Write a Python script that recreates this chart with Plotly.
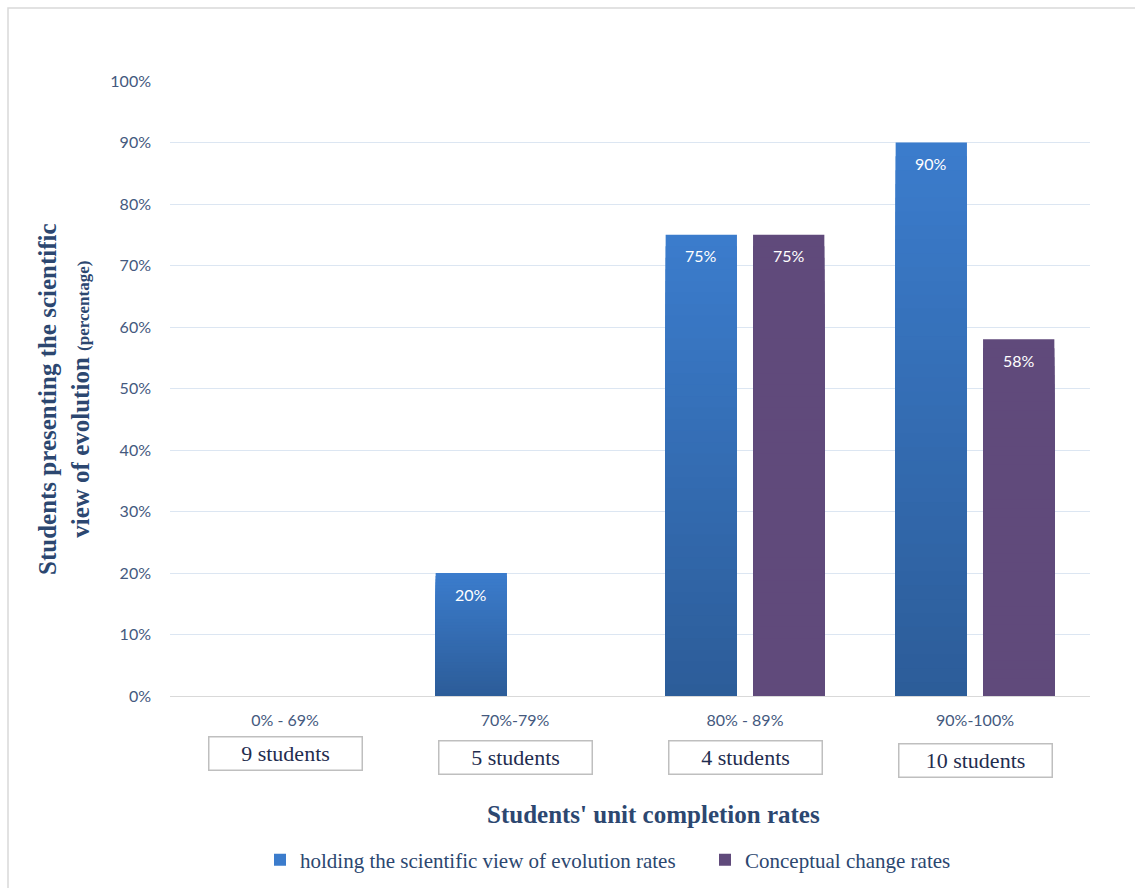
import plotly.graph_objects as go

# Completion-rate bands and the number of students in each band
categories = ["0% - 69%", "70%-79%", "80% - 89%", "90%-100%"]
student_counts = ["9 students", "5 students", "4 students", "10 students"]

# Percentages per band for each measure
scientific_view = [0, 20, 75, 90]
conceptual_change = [0, 0, 75, 58]

series_names = [
    "holding the scientific view of evolution rates",
    "Conceptual change rates",
]

TEXT_BLUE = "#2C4770"
TICK_BLUE = "#44597E"
SERIF = "Liberation Serif, Times New Roman, serif"
SANS = "Lato, Open Sans, sans-serif"

BAR_W = 0.31
CENTERS = [-0.19, 0.19]

# blue bars fade from a light top to a darker bottom; purple is flat
BLUE_TOP = (59, 124, 204)
BLUE_BOTTOM = (44, 92, 152)
PURPLE = (96, 74, 123)


def mix(c1, c2, t):
    return "rgb({},{},{})".format(*[round(a + (b - a) * t) for a, b in zip(c1, c2)])


W, H = 1135, 888
L, R, T, B = 170, 45, 81, 192
pw, ph = W - L - R, H - T - B


def px_x(x):
    return (x - L) / pw


def px_y(y):
    return (T + ph - y) / ph


fig = go.Figure()

N_STEPS = 40
series = [
    (scientific_view, BLUE_TOP, BLUE_BOTTOM, CENTERS[0]),
    (conceptual_change, PURPLE, PURPLE, CENTERS[1]),
]

for (vals, top, bottom, center), name in zip(series, series_names):
    # overlapping bars, tallest first, each shorter one painted a bit darker
    for k in range(N_STEPS):
        frac = 1 - k / N_STEPS
        fig.add_trace(go.Bar(
            x=categories,
            y=[v / 100 * frac for v in vals],
            width=BAR_W,
            offset=center - BAR_W / 2,
            marker=dict(color=mix(top, bottom, k / N_STEPS), line=dict(width=0)),
            name=name,
            showlegend=(k == 0),
            legendgroup=name,
            hoverinfo="skip",
        ))
    # value labels a little below each bar top
    for i, v in enumerate(vals):
        if v > 0:
            fig.add_annotation(
                x=i + center, xref="x", y=v / 100, yref="y",
                text=f"{v}%", showarrow=False,
                yanchor="middle", yshift=-21,
                font=dict(family=SANS, size=16, color="white"),
            )

# boxed student counts under each band label
box_centers_px = [753.5, 757, 757.5, 760]
for cat, label, yc in zip(categories, student_counts, box_centers_px):
    fig.add_annotation(
        x=cat, xref="x", y=px_y(yc), yref="paper",
        yanchor="middle",
        text=label, showarrow=False,
        font=dict(family=SERIF, size=22, color="#1F2D4F"),
        bordercolor="#BFBFBF", borderwidth=1.5,
        width=150, height=30, bgcolor="white",
    )

# x-axis title
fig.add_annotation(
    x=px_x(653), xref="paper", y=px_y(815), yref="paper",
    xanchor="center", yanchor="middle",
    text="<b>Students' unit completion rates</b>", showarrow=False,
    font=dict(family=SERIF, size=25, color=TEXT_BLUE),
)

# the two-line y-axis title, with a smaller "(percentage)"
fig.add_annotation(
    x=px_x(64), xref="paper", y=px_y(399), yref="paper",
    xanchor="center", yanchor="middle",
    text="<b>Students presenting the scientific<br>view of evolution <span style='font-size:17px'>(percentage)</span></b>",
    textangle=-90, showarrow=False,
    font=dict(family=SERIF, size=25, color=TEXT_BLUE),
    align="center",
)

# outer chart frame (only its top and left edges fall inside the canvas)
fig.add_shape(
    type="rect", xref="paper", yref="paper",
    x0=px_x(8), x1=px_x(W + 20),
    y0=px_y(H + 20), y1=px_y(8),
    line=dict(color="#D9D9D9", width=1.5),
    fillcolor="rgba(0,0,0,0)", layer="below",
)

fig.update_layout(
    width=W, height=H,
    margin=dict(l=L, r=R, t=T, b=B, autoexpand=False),
    paper_bgcolor="white", plot_bgcolor="white",
    barmode="overlay",
    showlegend=True,
    legend=dict(
        orientation="h",
        xref="container", x=260 / W, xanchor="left",
        yref="container", y=1 - 860 / H, yanchor="middle",
        font=dict(family=SERIF, size=21, color=TEXT_BLUE),
        itemwidth=30, tracegroupgap=0,
        entrywidthmode="pixels", entrywidth=400,
    ),
    xaxis=dict(
        type="category",
        tickfont=dict(family=SANS, size=16, color=TICK_BLUE),
        showline=True, linecolor="#D9D9D9", linewidth=1,
        ticks="", ticklen=0, ticklabelstandoff=10,
        automargin=False,
    ),
    yaxis=dict(
        range=[0, 1.0],
        dtick=0.1, tickformat=".0%",
        tickfont=dict(family=SANS, size=16, color=TICK_BLUE),
        showgrid=True, gridcolor="#DCE6F2", gridwidth=1,
        zeroline=False, ticks="", ticklabelstandoff=18,
        automargin=False,
    ),
)

fig.write_html("out.html")
